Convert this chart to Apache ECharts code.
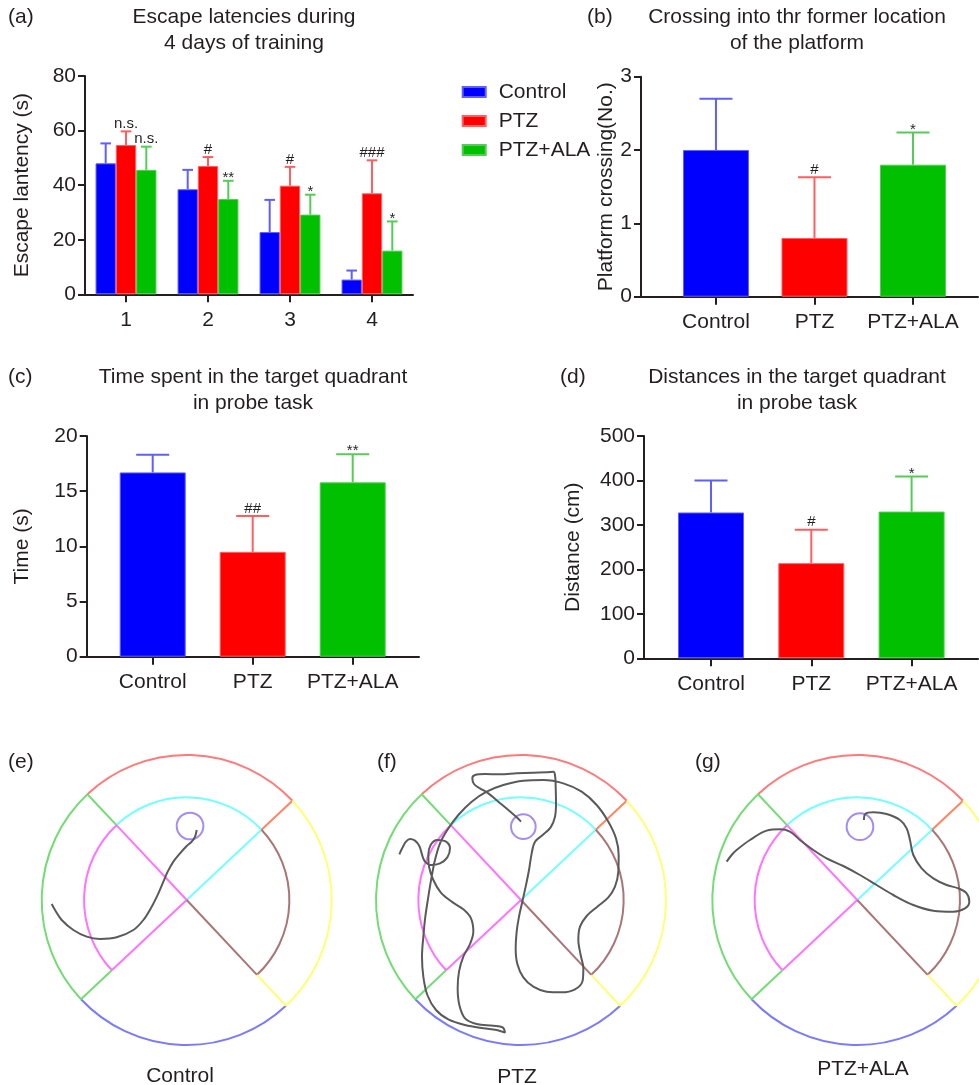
<!DOCTYPE html>
<html><head><meta charset="utf-8">
<script src="https://cdn.jsdelivr.net/npm/echarts@6/dist/echarts.min.js"></script>
<style>html,body{margin:0;padding:0;background:#fff}#c{width:979px;height:1085px}</style>
</head><body><div id="c"></div>
<script>
// ================= DATA =================
const GROUPS = ['Control', 'PTZ', 'PTZ+ALA'];
const DAYS = ['1', '2', '3', '4'];

// (a) Escape latency (s): mean and SD for each training day
const LAT_CONTROL = [48.0, 38.5, 22.8, 5.4];
const LAT_PTZ = [54.7, 47.0, 39.8, 37.0];
const LAT_ALA = [45.6, 34.9, 29.2, 16.0];
const LAT_CONTROL_SD = [7.3, 7.1, 11.8, 3.3];
const LAT_PTZ_SD = [5.0, 3.3, 6.9, 12.1];
const LAT_ALA_SD = [8.5, 6.7, 7.3, 10.7];
const LAT_CONTROL_SIG = ['', '', '', ''];
const LAT_PTZ_SIG = ['n.s.', '#', '#', '###'];
const LAT_ALA_SIG = ['n.s.', '**', '*', '*'];
const LAT_TICKS = [0, 20, 40, 60, 80];

// (b) Platform crossings (No.)
const CROSS_MEAN = [2.0, 0.8, 1.8];
const CROSS_SD = [0.7, 0.83, 0.44];
const CROSS_SIG = ['', '#', '*'];
const CROSS_TICKS = [0, 1, 2, 3];

// (c) Time in target quadrant (s)
const TIME_MEAN = [16.7, 9.5, 15.8];
const TIME_SD = [1.6, 3.25, 2.55];
const TIME_SIG = ['', '##', '**'];
const TIME_TICKS = [0, 5, 10, 15, 20];

// (d) Distance in target quadrant (cm)
const DIST_MEAN = [328, 214, 330];
const DIST_SD = [72, 75, 79];
const DIST_SIG = ['', '#', '*'];
const DIST_TICKS = [0, 100, 200, 300, 400, 500];

// (e)-(g) probe-trial tracks, in tracking-camera pixels (y grows downward)
const POOL_RADIUS = 435;
const POOL_INNER_FRAC = 0.708;
const POOL_BOUNDARY_DEG = [43.2, 133.2, 223.2, 313.2];
const POOL_CENTER_CONTROL = [560, 480];
const POOL_CENTER_PTZ = [483, 480];
const POOL_CENTER_ALA = [532, 480];
const PLATFORM_CONTROL = [570, 258, 40];
const PLATFORM_PTZ = [490, 260, 37];
const PLATFORM_ALA = [540, 260, 40];

const TRACK_CONTROL = [[590,270],[585,290],[575,305],[560,318],[540,340],[520,365],[503,395],[490,425],[475,460],[455,500],[430,540],[400,570],[350,592],[300,597],[260,590],[220,570],[185,540],[165,510],[155,492]];

const TRACK_PTZ = [[483,245],[470,232],[445,210],[415,185],[385,160],[360,145],[342,132],[337,115],[345,105],[375,102],[420,103],[470,100],[520,98],[560,97],[580,95],[585,105],[587,140],[588,190],[585,230],[572,262],[548,285],[525,305],[515,340],[507,390],[497,440],[487,485],[477,530],[470,575],[467,625],[472,672],[490,712],[520,740],[560,755],[605,757],[645,748],[668,722],[670,685],[662,645],[655,600],[660,560],[680,528],[712,500],[745,472],[765,440],[775,395],[776,345],[768,295],[745,245],[710,195],[665,155],[610,130],[550,120],[490,122],[430,135],[380,155],[335,185],[295,225],[262,270],[240,310],[225,360],[215,410],[205,470],[196,530],[190,590],[186,650],[190,710],[202,765],[228,810],[265,838],[315,855],[370,865],[410,870],[435,878],[428,862],[400,857],[350,852],[315,835],[298,795],[293,745],[297,695],[310,650],[330,612],[340,575],[333,535],[310,508],[275,485],[242,457],[220,420],[207,380],[205,345],[212,315],[232,300],[258,305],[270,325],[262,352],[240,370],[212,375],[193,362],[185,340],[178,318],[165,302],[150,297],[138,305],[128,322],[118,343]];

const TRACK_ALA = [[552,240],[556,222],[580,217],[620,222],[660,240],[680,265],[690,300],[700,345],[725,385],[760,415],[800,435],[835,445],[860,460],[868,485],[855,505],[820,515],[760,512],[700,495],[640,465],[590,435],[540,405],[490,378],[440,355],[400,330],[360,300],[330,275],[300,268],[260,272],[210,300],[170,330],[155,345],[140,365]];

// ================= STYLE =================
const FONT = '"Liberation Sans", Arial, Helvetica, sans-serif';
const INK = '#231f20';
const BAR_COLORS = ['#0000ff', '#ff0000', '#00c000'];
const ERR_COLORS = ['#5f5fff', '#ff5f5f', '#55cc55'];
const OUTER_ARC_COLORS = ['#ff7a7a', '#74dc74', '#7a7aff', '#ffff74'];
const INNER_ARC_COLORS = ['#74ffff', '#ff74ff', null, '#a87676'];
const SPOKE_IN_COLORS = ['#74ffff', '#ff74ff', '#ff74ff', '#a87676'];
const SPOKE_OUT_COLORS = ['#ff8464', '#74dc74', '#74dc74', '#ffff74'];
const TRACK_COLOR = '#5a5a5a';

const chart = echarts.init(document.getElementById('c'), null, {renderer: 'canvas'});

function yAx(grid, ticks, name, gap) {
  return {
    type: 'value', gridIndex: grid, min: ticks[0], max: ticks[ticks.length - 1], interval: ticks[1] - ticks[0],
    axisLine: {show: true, onZero: false, lineStyle: {color: INK, width: 2}},
    axisTick: {show: true, length: 7, lineStyle: {color: INK, width: 2}},
    axisLabel: {margin: 9, fontSize: 21, color: INK, fontFamily: FONT},
    splitLine: {show: false},
    name: name, nameLocation: 'middle', nameGap: gap,
    nameTextStyle: {fontSize: 21, color: INK, fontFamily: FONT}
  };
}
function xValAx(grid, min, max) {
  return {
    type: 'value', gridIndex: grid, min: min, max: max,
    axisLine: {show: true, onZero: false, lineStyle: {color: INK, width: 2}},
    axisTick: {show: true, customValues: [0, 1, 2], length: 8, lineStyle: {color: INK, width: 2}},
    axisLabel: {customValues: [0, 1, 2], formatter: function (v) { return GROUPS[Math.round(v)]; },
      margin: 15, fontSize: 21, color: INK, fontFamily: FONT},
    splitLine: {show: false}
  };
}
function hiddenAx(grid, center, inverse) {
  return {type: 'value', gridIndex: grid, min: center - POOL_RADIUS, max: center + POOL_RADIUS,
    inverse: !!inverse, show: false, splitLine: {show: false}};
}

function errRender(labels, colorFor, shiftPx, capHalf) {
  return function (params, api) {
    const i = params.dataIndex;
    const x = api.value(0), m = api.value(1), sd = api.value(2);
    const p0 = api.coord([x, m]);
    const p1 = api.coord([x, m + sd]);
    const cx = p0[0] + shiftPx;
    const col = colorFor(i);
    const lab = labels[i] || '';
    const dy = lab.charAt(0) === '*' ? 4.5 : 0;
    return {type: 'group', children: [
      {type: 'line', shape: {x1: cx, y1: p0[1], x2: cx, y2: p1[1]}, style: {stroke: col, lineWidth: 2}},
      {type: 'line', shape: {x1: cx - capHalf, y1: p1[1], x2: cx + capHalf, y2: p1[1]}, style: {stroke: col, lineWidth: 2}},
      {type: 'text', x: cx, y: p1[1] + dy, style: {text: lab, fontSize: 15, fontFamily: FONT, fill: INK,
        align: 'center', verticalAlign: 'bottom', textAlign: 'center', textVerticalAlign: 'bottom'}}
    ]};
  };
}
function errSeries(grid, means, sds, labels, colorFor, shiftPx, capHalf) {
  return {
    type: 'custom', xAxisIndex: grid, yAxisIndex: grid, z: 4, silent: true, clip: false,
    data: means.map(function (m, i) { return [i, m, sds[i]]; }),
    renderItem: errRender(labels, colorFor, shiftPx, capHalf)
  };
}
function groupBars(grid, means, name) {
  return {
    type: 'bar', name: name, xAxisIndex: grid, yAxisIndex: grid, barWidth: 66, silent: true,
    data: means.map(function (m, i) {
      return {value: [i, m], itemStyle: {color: BAR_COLORS[i], borderColor: ERR_COLORS[i], borderWidth: 1}};
    })
  };
}

function poolRender(center, platform) {
  return function (params, api) {
    const c = api.coord(center);
    const R = api.size([POOL_RADIUS, 0])[0];
    const rad = function (d) { return d * Math.PI / 180; };
    const pt = function (f, d) { return [c[0] + f * R * Math.cos(rad(d)), c[1] - f * R * Math.sin(rad(d))]; };
    const kids = [];
    for (let k = 0; k < 4; k++) {
      const a0 = POOL_BOUNDARY_DEG[k];
      const a1 = k < 3 ? POOL_BOUNDARY_DEG[k + 1] : POOL_BOUNDARY_DEG[0] + 360;
      kids.push({type: 'arc', shape: {cx: c[0], cy: c[1], r: R, startAngle: -rad(a0), endAngle: -rad(a1), clockwise: false},
        style: {stroke: OUTER_ARC_COLORS[k], fill: 'none', lineWidth: 2}});
      if (INNER_ARC_COLORS[k]) {
        kids.push({type: 'arc', shape: {cx: c[0], cy: c[1], r: R * POOL_INNER_FRAC, startAngle: -rad(a0), endAngle: -rad(a1), clockwise: false},
          style: {stroke: INNER_ARC_COLORS[k], fill: 'none', lineWidth: 2}});
      }
      const q0 = pt(0, a0), q1 = pt(POOL_INNER_FRAC, a0), q2 = pt(1, a0);
      kids.push({type: 'line', shape: {x1: q0[0], y1: q0[1], x2: q1[0], y2: q1[1]}, style: {stroke: SPOKE_IN_COLORS[k], lineWidth: 2}});
      kids.push({type: 'line', shape: {x1: q1[0], y1: q1[1], x2: q2[0], y2: q2[1]}, style: {stroke: SPOKE_OUT_COLORS[k], lineWidth: 2}});
    }
    const pc = api.coord([platform[0], platform[1]]);
    const pr = api.size([platform[2], 0])[0];
    kids.push({type: 'circle', shape: {cx: pc[0], cy: pc[1], r: pr}, style: {stroke: '#a68cf2', fill: 'none', lineWidth: 2}});
    return {type: 'group', children: kids};
  };
}
function poolSeries(grid, center, platform) {
  return {type: 'custom', xAxisIndex: grid, yAxisIndex: grid, silent: true, clip: false, z: 2,
    data: [center], renderItem: poolRender(center, platform)};
}
function trackSeries(grid, track) {
  return {type: 'line', xAxisIndex: grid, yAxisIndex: grid, data: track, smooth: 0.35, symbol: 'none',
    silent: true, z: 5, lineStyle: {color: TRACK_COLOR, width: 2}};
}

function txt(x, y, s, size, align, lh) {
  return {type: 'text', x: x, y: y, silent: true,
    style: {text: s, fontSize: size, fontFamily: FONT, fill: INK, lineHeight: lh || size,
      align: align, verticalAlign: 'middle', textAlign: align, textVerticalAlign: 'middle'}};
}

function gridAt(l, t, w, h) {
  return {left: l, top: t, width: w, height: h, outerBoundsMode: 'none', containLabel: false};
}

const option = {
  animation: false,
  backgroundColor: '#fff',
  textStyle: {fontFamily: FONT},
  legend: {
    orient: 'vertical', left: 461.7, top: 81.5, padding: 0, itemWidth: 23, itemHeight: 10, itemGap: 8,
    icon: 'rect', data: GROUPS, selectedMode: false,
    textStyle: {fontSize: 21, color: INK, fontFamily: FONT, lineHeight: 21, padding: [0, 0, 0, 8]}
  },
  grid: [
    gridAt(85, 76, 328, 218.3),
    gridAt(641, 76.7, 337, 220),
    gridAt(86.7, 436, 332.3, 220.7),
    gridAt(644, 436, 334, 222.3),
    gridAt(41.7, 755, 290, 290),
    gridAt(376, 755, 290, 290),
    gridAt(712.3, 755, 290, 290)
  ],
  xAxis: [
    {type: 'category', gridIndex: 0, data: DAYS,
      axisLine: {show: true, onZero: false, lineStyle: {color: INK, width: 2}},
      axisTick: {show: true, alignWithLabel: true, length: 8, lineStyle: {color: INK, width: 2}},
      axisLabel: {margin: 15, fontSize: 21, color: INK, fontFamily: FONT}},
    xValAx(1, -0.761, 2.66),
    xValAx(2, -0.66, 2.663),
    xValAx(3, -0.668, 2.662),
    hiddenAx(4, POOL_CENTER_CONTROL[0]),
    hiddenAx(5, POOL_CENTER_PTZ[0]),
    hiddenAx(6, POOL_CENTER_ALA[0])
  ],
  yAxis: [
    yAx(0, LAT_TICKS, 'Escape lantency (s)', 52.5),
    yAx(1, CROSS_TICKS, 'Platform crossing(No.)', 20.5),
    yAx(2, TIME_TICKS, 'Time (s)', 53.7),
    yAx(3, DIST_TICKS, 'Distance (cm)', 60.5),
    hiddenAx(4, POOL_CENTER_CONTROL[1], true),
    hiddenAx(5, POOL_CENTER_PTZ[1], true),
    hiddenAx(6, POOL_CENTER_ALA[1], true)
  ],
  series: [
    {type: 'bar', name: GROUPS[0], xAxisIndex: 0, yAxisIndex: 0, barWidth: 20.3, barGap: '0%', data: LAT_CONTROL,
      itemStyle: {color: BAR_COLORS[0], borderColor: ERR_COLORS[0], borderWidth: 1}, silent: true},
    {type: 'bar', name: GROUPS[1], xAxisIndex: 0, yAxisIndex: 0, barWidth: 20.3, barGap: '0%', data: LAT_PTZ,
      itemStyle: {color: BAR_COLORS[1], borderColor: ERR_COLORS[1], borderWidth: 1}, silent: true},
    {type: 'bar', name: GROUPS[2], xAxisIndex: 0, yAxisIndex: 0, barWidth: 20.3, barGap: '0%', data: LAT_ALA,
      itemStyle: {color: BAR_COLORS[2], borderColor: ERR_COLORS[2], borderWidth: 1}, silent: true},
    errSeries(0, LAT_CONTROL, LAT_CONTROL_SD, LAT_CONTROL_SIG, function () { return ERR_COLORS[0]; }, -20.3, 5.3),
    errSeries(0, LAT_PTZ, LAT_PTZ_SD, LAT_PTZ_SIG, function () { return ERR_COLORS[1]; }, 0, 5.3),
    errSeries(0, LAT_ALA, LAT_ALA_SD, LAT_ALA_SIG, function () { return ERR_COLORS[2]; }, 20.3, 5.3),

    groupBars(1, CROSS_MEAN, 'crossing'),
    errSeries(1, CROSS_MEAN, CROSS_SD, CROSS_SIG, function (i) { return ERR_COLORS[i]; }, 0, 16.5),
    groupBars(2, TIME_MEAN, 'time'),
    errSeries(2, TIME_MEAN, TIME_SD, TIME_SIG, function (i) { return ERR_COLORS[i]; }, 0, 16.5),
    groupBars(3, DIST_MEAN, 'distance'),
    errSeries(3, DIST_MEAN, DIST_SD, DIST_SIG, function (i) { return ERR_COLORS[i]; }, 0, 16.5),

    poolSeries(4, POOL_CENTER_CONTROL, PLATFORM_CONTROL),
    trackSeries(4, TRACK_CONTROL),
    poolSeries(5, POOL_CENTER_PTZ, PLATFORM_PTZ),
    trackSeries(5, TRACK_PTZ),
    poolSeries(6, POOL_CENTER_ALA, PLATFORM_ALA),
    trackSeries(6, TRACK_ALA)
  ],
  graphic: {elements: [
    txt(8, 17, '(a)', 21, 'left'),
    txt(244, 30, 'Escape latencies during\n4 days of training', 21, 'center', 26),
    txt(587, 17, '(b)', 21, 'left'),
    txt(797, 30, 'Crossing into thr former location\nof the platform', 21, 'center', 26),
    txt(8, 377, '(c)', 21, 'left'),
    txt(253, 390, 'Time spent in the target quadrant\nin probe task', 21, 'center', 26),
    txt(560, 377, '(d)', 21, 'left'),
    txt(797, 390, 'Distances in the target quadrant\nin probe task', 21, 'center', 26),
    txt(8, 762, '(e)', 21, 'left'),
    txt(377, 762, '(f)', 21, 'left'),
    txt(695, 762, '(g)', 21, 'left'),
    txt(180, 1076, 'Control', 21, 'center'),
    txt(517, 1077, 'PTZ', 21, 'center'),
    txt(863, 1069, 'PTZ+ALA', 21, 'center')
  ]}
};
chart.setOption(option);
</script>
</body></html>
